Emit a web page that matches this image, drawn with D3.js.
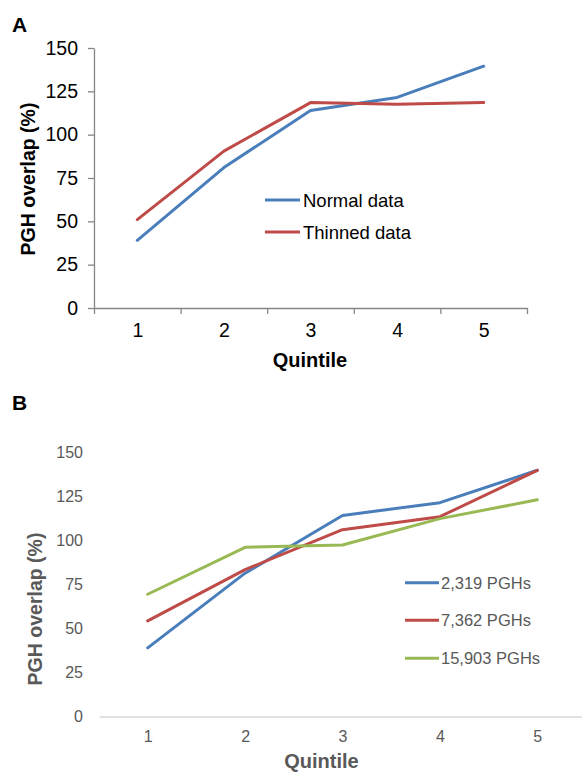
<!DOCTYPE html>
<html>
<head>
<meta charset="utf-8">
<script src="https://cdn.jsdelivr.net/npm/d3@7/dist/d3.min.js"></script>
<style>
  html, body { margin: 0; padding: 0; background: #fff; }
  svg { display: block; font-family: "Liberation Sans", Arial, sans-serif; }
</style>
</head>
<body>
<svg id="chart" width="582" height="772"></svg>
<script>
// ---- Data ----
const quintiles = [1, 2, 3, 4, 5];
const yTicks = [0, 25, 50, 75, 100, 125, 150];

// Panel A
const seriesA = ["Normal data", "Thinned data"];
const normalData = [39, 81, 114, 121.5, 139.5];
const thinnedData = [51, 90.5, 118.5, 117.5, 118.5];

// Panel B
const seriesB = ["2,319 PGHs", "7,362 PGHs", "15,903 PGHs"];
const pgh2319 = [39, 81.5, 114.3, 121.6, 140];
const pgh7362 = [54.4, 83.5, 106.2, 113.6, 140];
const pgh15903 = [69.5, 96.2, 97.5, 112.5, 123.2];

const colors = ["#4A7EBB", "#BE4B48", "#98B954"];

const svg = d3.select("#chart");

// ================= Panel A =================
(function () {
  const g = svg.append("g");
  const x = d3.scaleLinear().domain([0.5, 5.5]).range([94, 527]);
  const y = d3.scaleLinear().domain([0, 150]).range([308, 48]);
  const axisColor = "#868686";

  g.append("text").attr("x", 12).attr("y", 32)
    .attr("font-size", 21).attr("font-weight", "bold").attr("fill", "#000").text("A");

  // y axis
  const ya = g.append("g").attr("transform", "translate(94,0)")
    .call(d3.axisLeft(y).tickValues(yTicks).tickSize(6).tickSizeOuter(0).tickPadding(10));
  ya.selectAll("path, line").attr("stroke", axisColor).attr("stroke-width", 1.3);
  ya.selectAll("text").attr("font-size", 19.5).attr("fill", "#000")
    .attr("font-family", "Liberation Sans, Arial, sans-serif");

  // x axis: boundary ticks
  const boundaries = d3.range(0.5, 6, 1);
  const xa = g.append("g").attr("transform", "translate(0,308)")
    .call(d3.axisBottom(x).tickValues(boundaries).tickSize(6).tickSizeOuter(0).tickFormat(""));
  xa.selectAll("path, line").attr("stroke", axisColor).attr("stroke-width", 1.3);
  // x labels
  const xl = g.append("g").attr("transform", "translate(0,308)")
    .call(d3.axisBottom(x).tickValues(quintiles).tickSize(0).tickPadding(15).tickFormat(d3.format("d")));
  xl.select(".domain").remove();
  xl.selectAll("text").attr("font-size", 19.5).attr("fill", "#000")
    .attr("font-family", "Liberation Sans, Arial, sans-serif");

  // titles
  g.append("text").attr("x", 310).attr("y", 367).attr("text-anchor", "middle")
    .attr("font-size", 20).attr("font-weight", "bold").attr("fill", "#000").text("Quintile");
  g.append("text").attr("transform", "translate(28,179) rotate(-90)")
    .attr("text-anchor", "middle").attr("dominant-baseline", "central")
    .attr("font-size", 19.5).attr("font-weight", "bold").attr("fill", "#000").text("PGH overlap (%)");

  const line = d3.line().x((d, i) => x(quintiles[i])).y(d => y(d));
  [normalData, thinnedData].forEach((s, i) => {
    g.append("path").datum(s).attr("d", line).attr("fill", "none")
      .attr("stroke", colors[i]).attr("stroke-width", 3).attr("stroke-linejoin", "round").attr("stroke-linecap", "round");
  });

  // legend
  const legY = [200, 232];
  seriesA.forEach((name, i) => {
    g.append("line").attr("x1", 265).attr("x2", 300).attr("y1", legY[i]).attr("y2", legY[i])
      .attr("stroke", colors[i]).attr("stroke-width", 3);
    g.append("text").attr("x", 303).attr("y", legY[i]).attr("dominant-baseline", "central")
      .attr("font-size", 18.5).attr("fill", "#000").text(name);
  });
})();

// ================= Panel B =================
(function () {
  const g = svg.append("g");
  const x = d3.scaleLinear().domain([0.5, 5.5]).range([99, 586]);
  const y = d3.scaleLinear().domain([0, 150]).range([716.5, 452.7]);
  const textColor = "#595959";

  g.append("text").attr("x", 12).attr("y", 410)
    .attr("font-size", 21).attr("font-weight", "bold").attr("fill", "#000").text("B");

  // y axis labels only
  const ya = g.append("g").attr("transform", "translate(83,0)")
    .call(d3.axisLeft(y).tickValues(yTicks).tickSize(0).tickPadding(0));
  ya.select(".domain").remove();
  ya.selectAll("text").attr("font-size", 16).attr("fill", textColor)
    .attr("font-family", "Liberation Sans, Arial, sans-serif");

  // x axis line
  const xa = g.append("g").attr("transform", "translate(0,716.5)")
    .call(d3.axisBottom(x).tickValues(quintiles).tickSize(0).tickSizeOuter(0).tickPadding(14).tickFormat(d3.format("d")));
  xa.select(".domain").attr("stroke", "#D9D9D9").attr("stroke-width", 1.5);
  xa.selectAll("text").attr("font-size", 16).attr("fill", textColor)
    .attr("font-family", "Liberation Sans, Arial, sans-serif");

  g.append("text").attr("x", 321.5).attr("y", 767.5).attr("text-anchor", "middle")
    .attr("font-size", 20).attr("font-weight", "bold").attr("fill", textColor).text("Quintile");
  g.append("text").attr("transform", "translate(35,609) rotate(-90)")
    .attr("text-anchor", "middle").attr("dominant-baseline", "central")
    .attr("font-size", 19.5).attr("font-weight", "bold").attr("fill", textColor).text("PGH overlap (%)");

  const line = d3.line().x((d, i) => x(quintiles[i])).y(d => y(d));
  [pgh2319, pgh7362, pgh15903].forEach((s, i) => {
    g.append("path").datum(s).attr("d", line).attr("fill", "none")
      .attr("stroke", colors[i]).attr("stroke-width", 3).attr("stroke-linejoin", "round").attr("stroke-linecap", "round");
  });

  const legY = [582.7, 620.3, 658.3];
  seriesB.forEach((name, i) => {
    g.append("line").attr("x1", 405).attr("x2", 439).attr("y1", legY[i]).attr("y2", legY[i])
      .attr("stroke", colors[i]).attr("stroke-width", 3);
    g.append("text").attr("x", 441).attr("y", legY[i]).attr("dominant-baseline", "central")
      .attr("font-size", 16.5).attr("fill", textColor).text(name);
  });
})();
</script>
</body>
</html>
